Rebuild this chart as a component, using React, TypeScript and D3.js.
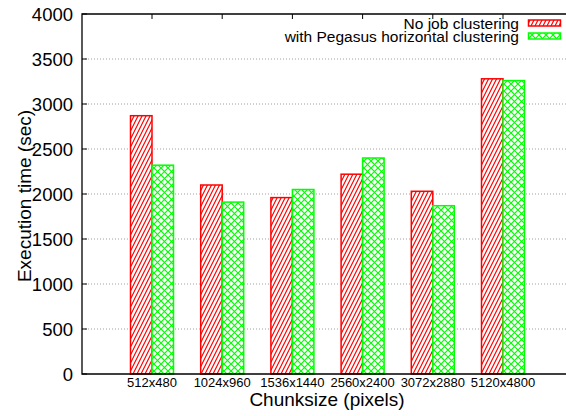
import React, { useEffect, useRef } from 'react';
import * as d3 from 'd3';

const categories = ['512x480', '1024x960', '1536x1440', '2560x2400', '3072x2880', '5120x4800'];
const noClustering = [2870, 2100, 1960, 2220, 2030, 3280];
const pegasusClustering = [2320, 1910, 2050, 2400, 1870, 3260];
const seriesNames = ['No job clustering', 'with Pegasus horizontal clustering'];
const yTicks = [0, 500, 1000, 1500, 2000, 2500, 3000, 3500, 4000];

const App: React.FC = () => {
  const svgRef = useRef<SVGSVGElement>(null);

  useEffect(() => {
    if (!svgRef.current) return;
    const svg = d3.select(svgRef.current);
    svg.selectAll('*').remove();

    const left = 82, top = 14, bottom = 374, right = 566;
    const font = "'Liberation Sans', Arial, Helvetica, sans-serif";

    const y = d3.scaleLinear().domain([0, 4000]).range([bottom, top]);
    const x = d3.scalePoint<string>().domain(categories).range([152, 503]);
    const barW = 21.5;

    // patterns
    const defs = svg.append('defs');
    const hatch = defs.append('pattern')
      .attr('id', 'hatch-red')
      .attr('patternUnits', 'userSpaceOnUse')
      .attr('width', 4).attr('height', 8);
    hatch.append('rect').attr('width', 4).attr('height', 8).attr('fill', '#fff');
    hatch.append('path')
      .attr('d', 'M-1,10 L5,-2 M-5,10 L1,-2 M3,10 L9,-2')
      .attr('stroke', '#ff0000').attr('stroke-width', 1.2);

    const cross = defs.append('pattern')
      .attr('id', 'cross-green')
      .attr('patternUnits', 'userSpaceOnUse')
      .attr('width', 7).attr('height', 7);
    cross.append('rect').attr('width', 7).attr('height', 7).attr('fill', '#fff');
    cross.append('path')
      .attr('d', 'M0,0 L7,7 M7,0 L0,7')
      .attr('stroke', '#00ff00').attr('stroke-width', 1.2);

    // gridlines
    svg.append('g').selectAll('line')
      .data(yTicks.filter(t => t > 0 && t < 4000))
      .enter().append('line')
      .attr('x1', left).attr('x2', right)
      .attr('y1', d => y(d)).attr('y2', d => y(d))
      .attr('stroke', '#a0a0a0').attr('stroke-width', 1)
      .attr('stroke-dasharray', '1,2');

    // bars
    const bars = svg.append('g');
    categories.forEach((c, i) => {
      const cx = x(c) as number;
      bars.append('rect')
        .attr('x', cx - barW).attr('y', y(noClustering[i]))
        .attr('width', barW).attr('height', y(0) - y(noClustering[i]))
        .attr('fill', 'url(#hatch-red)')
        .attr('stroke', '#ff0000').attr('stroke-width', 1.5);
      bars.append('rect')
        .attr('x', cx).attr('y', y(pegasusClustering[i]))
        .attr('width', barW).attr('height', y(0) - y(pegasusClustering[i]))
        .attr('fill', 'url(#cross-green)')
        .attr('stroke', '#00ff00').attr('stroke-width', 1.5);
    });

    // frame
    svg.append('path')
      .attr('d', `M${right},${top} L${left},${top} L${left},${bottom} L${right},${bottom}`)
      .attr('fill', 'none').attr('stroke', '#000').attr('stroke-width', 1.3);

    // y ticks and labels
    const yAxis = svg.append('g');
    yTicks.forEach(t => {
      yAxis.append('line')
        .attr('x1', left).attr('x2', left + 5)
        .attr('y1', y(t)).attr('y2', y(t))
        .attr('stroke', '#000');
      yAxis.append('text')
        .attr('x', 73).attr('y', y(t))
        .attr('dy', '0.36em')
        .attr('text-anchor', 'end')
        .attr('font-family', font).attr('font-size', 18.5)
        .text(t);
    });

    // x ticks on top and labels below
    const xAxis = svg.append('g');
    categories.forEach(c => {
      const cx = x(c) as number;
      xAxis.append('line')
        .attr('x1', cx).attr('x2', cx)
        .attr('y1', top).attr('y2', top + 5)
        .attr('stroke', '#000');
      xAxis.append('text')
        .attr('x', cx).attr('y', 387)
        .attr('text-anchor', 'middle')
        .attr('font-family', font).attr('font-size', 13)
        .text(c);
    });

    // axis titles
    svg.append('text')
      .attr('x', 327).attr('y', 406)
      .attr('text-anchor', 'middle')
      .attr('font-family', font).attr('font-size', 19)
      .text('Chunksize (pixels)');

    svg.append('text')
      .attr('transform', 'translate(31,196) rotate(-90)')
      .attr('text-anchor', 'middle')
      .attr('font-family', font).attr('font-size', 19)
      .text('Execution time (sec)');

    // legend
    const legend = svg.append('g');
    const fills = ['url(#hatch-red)', 'url(#cross-green)'];
    const strokes = ['#ff0000', '#00ff00'];
    seriesNames.forEach((name, i) => {
      const ly = 23 + i * 13;
      legend.append('text')
        .attr('x', 519).attr('y', ly)
        .attr('dy', '0.36em')
        .attr('text-anchor', 'end')
        .attr('font-family', font).attr('font-size', 15.5)
        .text(name);
      legend.append('rect')
        .attr('x', 528.5).attr('y', ly - 3)
        .attr('width', 32).attr('height', 6)
        .attr('fill', fills[i])
        .attr('stroke', strokes[i]).attr('stroke-width', 1.5);
    });
  }, []);

  return (
    <svg
      ref={svgRef}
      width={566}
      height={416}
      style={{ position: 'absolute', left: 0, top: 0, background: '#fff' }}
    />
  );
};

export default App;
